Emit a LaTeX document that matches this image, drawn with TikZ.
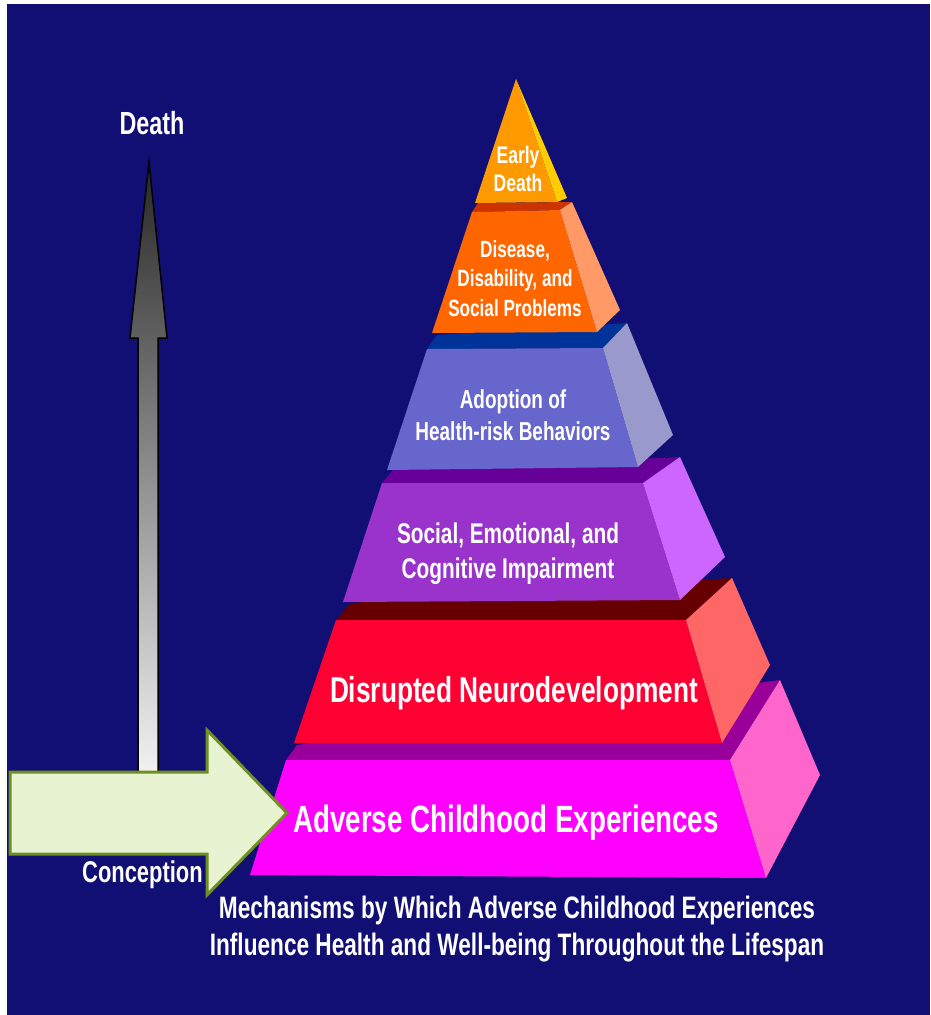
\documentclass[tikz,border=0pt]{standalone}
\usepackage{fontspec}
\setmainfont{Liberation Sans}
\usepackage{graphicx}

\definecolor{slidebg}{RGB}{17,15,115}
\definecolor{edFront}{HTML}{FF9900}
\definecolor{edSide}{HTML}{FFCC00}
\definecolor{dsTop}{HTML}{CC3300}
\definecolor{dsFront}{HTML}{FF6600}
\definecolor{dsSide}{HTML}{FF9966}
\definecolor{ahTop}{HTML}{003399}
\definecolor{ahFront}{HTML}{6666CC}
\definecolor{ahSide}{HTML}{9999CC}
\definecolor{scTop}{HTML}{660099}
\definecolor{scFront}{HTML}{9933CC}
\definecolor{scSide}{HTML}{CC66FF}
\definecolor{dnTop}{HTML}{660000}
\definecolor{dnFront}{HTML}{FF0033}
\definecolor{dnSide}{HTML}{FF6666}
\definecolor{acTop}{HTML}{990099}
\definecolor{acFront}{HTML}{FF00FF}
\definecolor{acSide}{HTML}{FF66CC}
\definecolor{arrowFill}{HTML}{E8F3D2}
\definecolor{arrowLine}{HTML}{6E8F22}

% squeezed, centred lines of text
\newcommand{\sqz}[1]{\scalebox{0.73}[1]{\begin{tabular}{@{}c@{}}#1\end{tabular}}}

\begin{document}
\begin{tikzpicture}[
  x=1pt, y=-1pt,
  lbl/.style={text=white, inner sep=0pt, font=\bfseries},
  face/.style={line join=round}
]

% ------------------------------------------------------------
% Background
% ------------------------------------------------------------
\useasboundingbox (0,0) rectangle (930,1015);
\fill[white] (0,0) rectangle (930,1015);
\fill[slidebg] (7,4) rectangle (930,1015);

% ------------------------------------------------------------
% Timeline arrow (conception -> death)
% ------------------------------------------------------------
\shade[top color=black!85, bottom color=black!5, draw=black, line width=1.5pt, line join=miter]
  (149,162) -- (167,338) -- (158,338) -- (158,775) -- (138,775) -- (138,338) -- (130,338) -- cycle;

\node[lbl, font=\bfseries\fontsize{32}{36}\selectfont] (death) at (152,127) {\sqz{Death}};
\node[lbl, font=\bfseries\fontsize{30}{34}\selectfont, anchor=west] (conception) at (82,876) {\sqz{Conception}};

% ------------------------------------------------------------
% Pyramid, bottom layer first
% ------------------------------------------------------------
% Adverse Childhood Experiences
\fill[face, acTop]   (286,760) -- (297,745) -- (780,680) -- (730,760) -- cycle;
\fill[face, acFront] (286,760) -- (730,760) -- (766,878) -- (250,875) -- cycle;
\fill[face, acSide]  (730,760) -- (780,680) -- (820,775) -- (766,878) -- cycle;

% Disrupted Neurodevelopment
\fill[face, dnTop]   (336,620) -- (351,603) -- (732,578) -- (686,620) -- cycle;
\fill[face, dnFront] (336,620) -- (686,620) -- (722,743) -- (294,743) -- cycle;
\fill[face, dnSide]  (686,620) -- (732,578) -- (770,665) -- (722,743) -- cycle;

% Social, Emotional, and Cognitive Impairment
\fill[face, scTop]   (382,483) -- (393,470) -- (680,457) -- (643,483) -- cycle;
\fill[face, scFront] (382,483) -- (643,483) -- (680,600) -- (343,602) -- cycle;
\fill[face, scSide]  (643,483) -- (680,457) -- (725,557) -- (680,600) -- cycle;

% Adoption of Health-risk Behaviors
\fill[face, ahTop]   (427,349) -- (437,335) -- (627,323) -- (603,348) -- cycle;
\fill[face, ahFront] (427,349) -- (603,348) -- (638,467) -- (387,470) -- cycle;
\fill[face, ahSide]  (603,348) -- (627,323) -- (673,435) -- (638,467) -- cycle;

% Disease, Disability, and Social Problems
\fill[face, dsTop]   (472,212) -- (478,203) -- (572,202) -- (560,210) -- cycle;
\fill[face, dsFront] (472,212) -- (560,210) -- (597,332) -- (432,333) -- cycle;
\fill[face, dsSide]  (560,210) -- (572,202) -- (620,310) -- (597,332) -- cycle;

% Early Death
\fill[face, edFront] (516,79) -- (557,202) -- (475,203) -- cycle;
\fill[face, edSide]  (516,79) -- (567,198) -- (557,202) -- cycle;

% layer labels
\node[lbl, font=\bfseries\fontsize{24}{28}\selectfont]   (early)     at (518,172) {\sqz{Early\\Death}};
\node[lbl, font=\bfseries\fontsize{23.5}{29.5}\selectfont] (disease) at (515,281) {\sqz{Disease,\\Disability, and\\Social Problems}};
\node[lbl, font=\bfseries\fontsize{26}{32}\selectfont]   (adoption)  at (513,418) {\sqz{Adoption of\\Health-risk Behaviors}};
\node[lbl, font=\bfseries\fontsize{28.5}{35}\selectfont] (social)    at (508,554) {\sqz{Social, Emotional, and\\Cognitive Impairment}};
\node[lbl, font=\bfseries\fontsize{36}{40}\selectfont]   (disrupted) at (514,694) {\sqz{Disrupted Neurodevelopment}};
\node[lbl, font=\bfseries\fontsize{38}{42}\selectfont]   (adverse)   at (506,824) {\sqz{Adverse Childhood Experiences}};

% ------------------------------------------------------------
% Entry arrow
% ------------------------------------------------------------
\filldraw[fill=arrowFill, draw=arrowLine, line width=3pt, line join=miter]
  (10,772) -- (207,772) -- (207,730) -- (287,813) -- (207,895) -- (207,854) -- (10,854) -- cycle;

% caption
\node[lbl, font=\bfseries\fontsize{31}{37}\selectfont] (caption) at (517,930)
  {\sqz{Mechanisms by Which Adverse Childhood Experiences\\Influence Health and Well-being Throughout the Lifespan}};

\end{tikzpicture}
\end{document}
